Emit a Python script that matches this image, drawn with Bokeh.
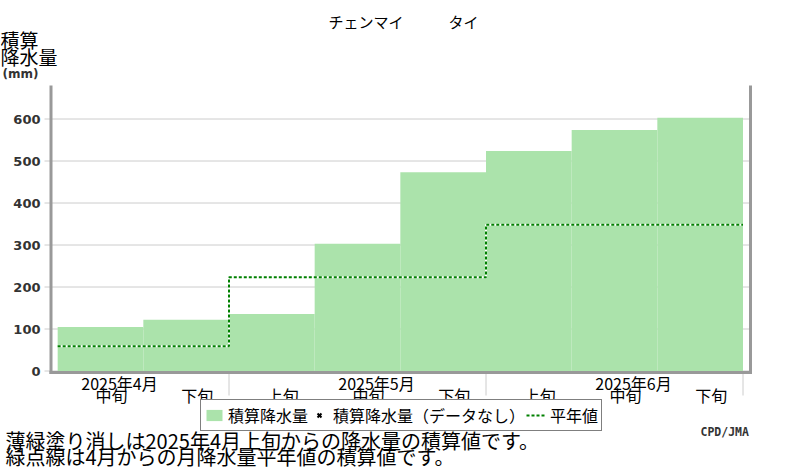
from bokeh.plotting import figure
from bokeh.models import (Range1d, Label, ColumnDataSource, Legend, LegendItem)
from bokeh.core.properties import value
from bokeh.embed import file_html
from bokeh.resources import INLINE

# ---------------- data ----------------
title_text = "チェンマイ　　　タイ"
months = ["2025年4月", "2025年5月", "2025年6月"]
dekad_names = ["上旬", "中旬", "下旬"]
bar_month = [0, 0, 1, 1, 1, 2, 2, 2]
bar_dekad = ["中旬", "下旬", "上旬", "中旬", "下旬", "上旬", "中旬", "下旬"]
cum_precip = [105, 122, 136, 303, 473, 524, 574, 603]          # mm
normal_cum_monthly = [59, 223, 348]                              # mm
y_ticks = [0, 100, 200, 300, 400, 500, 600]
y_label_lines = ["積算", "降水量"]
y_unit = "(mm)"
legend_labels = ["積算降水量", "積算降水量（データなし）", "平年値"]
note1 = "薄緑塗り消しは2025年4月上旬からの降水量の積算値です。"
note2 = "緑点線は4月からの月降水量平年値の積算値です。"
credit = "CPD/JMA"

JP = "Noto Sans CJK JP"
W, H = 800, 470

# ---------------- scales (pixel layout of the plot area) ----------------
DEK_PX = 257 / 3          # pixels per dekad
X0_PX = 228.5 - 3 * DEK_PX
MM_PX = 0.42              # pixels per mm
Y0_PX = 370.5             # pixel row of 0 mm


def fx(px):
    return (px - X0_PX) / DEK_PX


def fy(py):
    return (Y0_PX - py) / MM_PX


# plot-area edges in data units
xa, xb = fx(50.5), fx(750)
ya_ax, y_top = fy(372), fy(85)

# positions (dekad units: month m, dekad d -> 3*m + d)
bar_pos = [3 * m + dekad_names.index(d) for m, d in zip(bar_month, bar_dekad)]
bar_src = ColumnDataSource(dict(x=[b + 0.5 for b in bar_pos], top=cum_precip,
                                lab=bar_dekad))

# normal step line
nx, ny = [], []
first = bar_pos[0]
for m, v in enumerate(normal_cum_monthly):
    nx += [max(3 * m, first), 3 * m + 3]
    ny += [v, v]
norm_src = ColumnDataSource(dict(x=nx, y=ny))

p = figure(width=W, height=H, output_backend="svg", toolbar_location=None,
           x_axis_type=None, y_axis_type=None, min_border=0,
           x_range=Range1d(fx(0), fx(W)), y_range=Range1d(fy(H), fy(0)))
p.outline_line_color = None
p.background_fill_color = "white"
p.border_fill_color = "white"

n = len(y_ticks)
# grid lines
p.segment(x0=[xa] * n, x1=[xb] * n, y0=y_ticks, y1=y_ticks,
          line_color="#cccccc", line_width=1)
# y ticks
p.segment(x0=[fx(44)] * n, x1=[xa] * n, y0=y_ticks, y1=y_ticks,
          line_color="#cccccc", line_width=1)
p.text(x=[fx(40)] * n, y=y_ticks, text=[str(t) for t in y_ticks],
       text_align="right", text_baseline="middle",
       text_font=value("DejaVu Sans"), text_font_style="bold",
       text_font_size="13px", text_color="#333333")

# bars
bars = p.vbar(x="x", top="top", bottom=0, width=1, source=bar_src,
              fill_color="#abe3ab", line_color=None)

# normal line (white base + green dashes)
p.line("x", "y", source=norm_src, line_color="white", line_width=2)
norm_line = p.line("x", "y", source=norm_src, line_color="#008000",
                   line_width=2, line_dash="3 2")

# renderer for the "no data" legend entry (no missing periods -> NaN)
nodata_src = ColumnDataSource(dict(x=[float("nan")], y=[float("nan")]))
nodata = p.scatter(x="x", y="y", source=nodata_src, marker="x", size=7,
                   line_color="black", line_width=2)

# x boundary ticks (month boundaries)
month_bounds = [3 * (m + 1) for m in range(len(months))]
k = len(month_bounds)
p.segment(x0=month_bounds, x1=month_bounds, y0=[fy(373)] * k, y1=[fy(395)] * k,
          line_color="#cccccc", line_width=1)

# axis lines (left, bottom, right)
p.segment(x0=[xa, fx(49), xb], x1=[xa, fx(751.5), xb],
          y0=[y_top, ya_ax, y_top], y1=[fy(373.5), ya_ax, fy(373.5)],
          line_color="#999999", line_width=3)

# x labels
p.text(x="x", y=fy(382), text="lab", source=bar_src, x_offset=11,
       text_align="center", text_baseline="top", text_font=value(JP),
       text_font_size="16px", text_color="black")
month_src = ColumnDataSource(dict(x=[3 * m + 1.5 for m in range(len(months))],
                                  lab=months))
p.text(x="x", y=fy(370), text="lab", source=month_src, x_offset=19,
       text_align="center", text_baseline="top", text_font=value(JP),
       text_font_size="16px", text_color="black")

legend = Legend(items=[
    LegendItem(label=legend_labels[0], renderers=[bars]),
    LegendItem(label=legend_labels[1], renderers=[nodata]),
    LegendItem(label=legend_labels[2], renderers=[norm_line]),
], location=(200, H - 431), orientation="horizontal",
    glyph_width=20, glyph_height=14, label_standoff=4, spacing=1,
    padding=3, margin=0, border_line_color="black", border_line_width=1,
    background_fill_color="white", background_fill_alpha=1,
    label_text_font=JP, label_text_font_size="16px", label_height=16,
    label_text_color="black")
p.add_layout(legend)


def lab(text, px, py, size, font=JP, style="normal", align="left",
        color="black"):
    p.add_layout(Label(x=px, y=H - py, x_units="screen", y_units="screen",
                       text=text, text_font=font, text_font_size=size,
                       text_font_style=style, text_align=align,
                       text_baseline="top", text_color=color))


# title
lab(title_text, 403, 10, "15px", align="center")
# y-axis label
lab(y_label_lines[0], 0, 25, "19px")
lab(y_label_lines[1], 0, 42, "19px")
lab(y_unit, 2, 66, "12px", font="DejaVu Sans", style="bold", color="#333333")
# notes
lab(note1, 5, 425, "20px")
lab(note2, 5, 441, "20px")
lab(credit, 700, 424, "11.5px", font="DejaVu Sans Mono", style="bold",
    color="#333333")

open("out.html", "w").write(file_html(p, INLINE))
